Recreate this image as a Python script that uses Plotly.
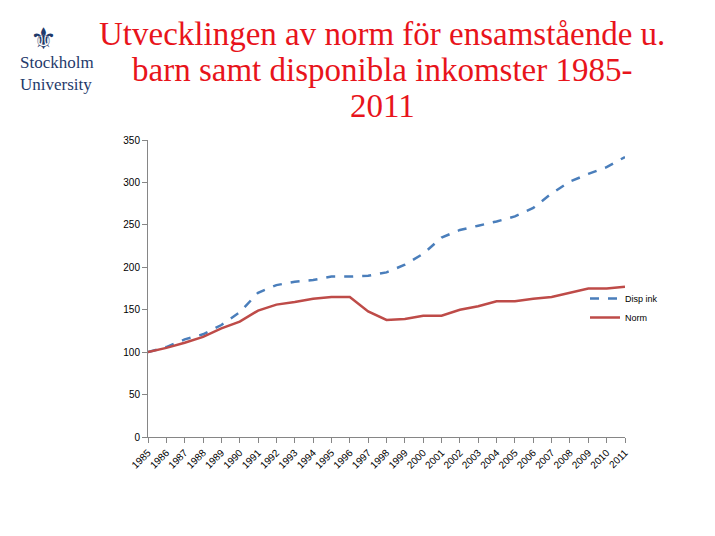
import plotly.graph_objects as go

years = list(range(1985, 2012))
disp_ink = [100, 106, 115, 121, 132, 147, 170, 179, 183, 185, 189, 189, 190, 194, 203,
            216, 235, 244, 249, 254, 260, 270, 287, 301, 310, 318, 330]
norm = [100, 105, 111, 118, 128, 136, 149, 156, 159, 163, 165, 165, 148, 138, 139,
        143, 143, 150, 154, 160, 160, 163, 165, 170, 175, 175, 177]
year_labels = [str(y) for y in years]

L, T, R, B = 140, 132, 617, 429
W, H = R - L, B - T

fig = go.Figure()
fig.add_trace(go.Scatter(x=year_labels, y=disp_ink, name="Disp ink", mode="lines",
                         line=dict(color="#4A7EBB", width=2.5, dash="dash")))
fig.add_trace(go.Scatter(x=year_labels, y=norm, name="Norm", mode="lines",
                         line=dict(color="#BE4B48", width=2.5)))

fig.update_layout(
    width=715, height=536, paper_bgcolor="white", plot_bgcolor="white",
    margin=dict(l=L, r=715 - R, t=T, b=536 - B, autoexpand=False),
    font=dict(family="Liberation Sans", size=10, color="black"),
    showlegend=True,
    legend=dict(x=(577 - L) / W, y=1 - (276 - T) / H, xanchor="left", yanchor="top",
                font=dict(size=9), bgcolor="rgba(0,0,0,0)", tracegroupgap=0),
    xaxis=dict(type="category", tickangle=-45, showline=True, linecolor="#868686",
               ticks="outside", tickcolor="#868686", showgrid=False, range=[0, 26]),
    yaxis=dict(range=[0, 350], dtick=50, showline=True, linecolor="#868686",
               ticks="outside", tickcolor="#868686", showgrid=False),
)
title_lines = ["Utvecklingen av norm för ensamstående u.",
               "barn samt disponibla inkomster 1985-", "2011"]
for i, t in enumerate(title_lines):
    fig.add_annotation(text=t, xref="paper", yref="paper", x=(374 - L) / W,
                       y=1 + (T - (26 + 36 * i)) / H,
                       showarrow=False, xanchor="center", yanchor="middle",
                       font=dict(family="Liberation Serif", size=33, color="#E8141B"))
fig.add_annotation(text="Stockholm<br>University", xref="paper", yref="paper",
                   x=(10 - L) / W, y=1 + (T - 66) / H, xanchor="left", yanchor="middle",
                   showarrow=False, align="left",
                   font=dict(family="Liberation Serif", size=17, color="#1F3A6B"))
fig.add_annotation(text="⚜", xref="paper", yref="paper",
                   x=(35 - L) / W, y=1 + (T - 30) / H, xanchor="center", yanchor="middle",
                   showarrow=False, font=dict(size=30, color="#1F3A6B"))
fig.write_html("out.html")
